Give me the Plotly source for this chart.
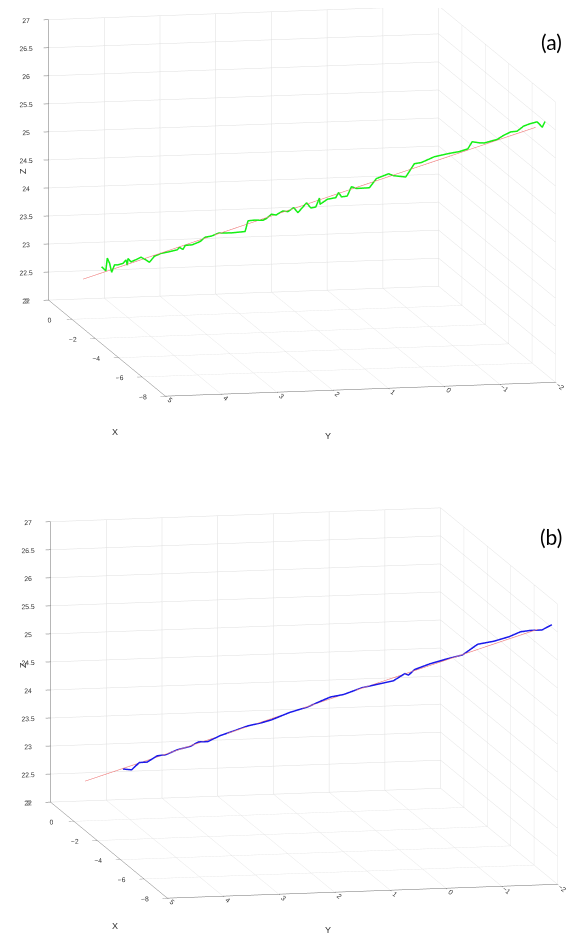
import plotly.graph_objects as go

# Reference (ideal) trajectory
red_x = [1.0, -7.5]
red_y = [4.59, -1.75]
red_z = [22.53, 26.47]

# (a) measured trajectory
green_x = [0.66, 0.58, 0.55, 0.50, 0.46, 0.41, 0.35, 0.25, 0.19, 0.17, 0.16, 0.10, 0.01, -0.09, -0.17,
           -0.24, -0.33, -0.46, -0.58, -0.77, -0.81, -0.87, -0.92, -1.05, -1.20, -1.29, -1.42, -1.54, -1.79, -2.04,
           -2.10, -2.22, -2.38, -2.44, -2.53, -2.63, -2.75, -2.84, -2.96, -3.03, -3.20, -3.28, -3.37, -3.44, -3.45,
           -3.59, -3.74, -3.80, -3.85, -3.96, -4.04, -4.13, -4.38, -4.50, -4.73, -4.83, -5.06, -5.22, -5.35, -5.60,
           -5.88, -6.07, -6.22, -6.31, -6.44, -6.53, -6.78, -6.90, -7.03, -7.15, -7.28, -7.40, -7.52, -7.57, -7.63, -7.68]
green_y = [4.33, 4.27, 4.25, 4.22, 4.19, 4.15, 4.10, 4.03, 3.99, 3.97, 3.96, 3.92, 3.85, 3.78, 3.72,
           3.66, 3.59, 3.50, 3.41, 3.27, 3.24, 3.19, 3.16, 3.06, 2.95, 2.88, 2.79, 2.69, 2.51, 2.32,
           2.28, 2.19, 2.07, 2.02, 1.95, 1.89, 1.79, 1.72, 1.64, 1.58, 1.46, 1.40, 1.33, 1.28, 1.27,
           1.17, 1.05, 1.01, 0.97, 0.89, 0.83, 0.76, 0.58, 0.48, 0.31, 0.24, 0.07, -0.05, -0.15, -0.33,
           -0.54, -0.68, -0.80, -0.86, -0.96, -1.03, -1.21, -1.30, -1.40, -1.49, -1.58, -1.67, -1.77, -1.80, -1.84, -1.88]
green_z = [22.80, 22.74, 22.97, 22.89, 22.73, 22.87, 22.88, 22.92, 22.99, 22.90, 23.02, 22.97, 23.02, 23.08, 23.05,
           23.01, 23.13, 23.20, 23.24, 23.31, 23.36, 23.33, 23.41, 23.44, 23.52, 23.61, 23.65, 23.72, 23.76, 23.82,
           24.02, 24.05, 24.07, 24.11, 24.20, 24.20, 24.29, 24.29, 24.38, 24.30, 24.50, 24.42, 24.45, 24.62, 24.51,
           24.62, 24.67, 24.77, 24.70, 24.73, 24.91, 24.89, 24.94, 25.12, 25.24, 25.22, 25.23, 25.49, 25.53, 25.67,
           25.77, 25.83, 25.90, 26.04, 26.04, 26.05, 26.15, 26.24, 26.32, 26.35, 26.46, 26.52, 26.57, 26.54, 26.49, 26.60]

# (b) filtered trajectory
blue_x = [0.29, 0.12, -0.02, -0.17, -0.36, -0.51, -0.73, -0.98, -1.13, -1.31, -1.54, -1.81, -2.06, -2.31, -2.50,
          -2.84, -3.18, -3.43, -3.61, -3.86, -4.20, -4.54, -4.79, -5.01, -5.07, -5.19, -5.47, -5.78, -6.09, -6.37,
          -6.68, -6.96, -7.18, -7.36, -7.58, -7.76]
blue_y = [4.06, 3.94, 3.83, 3.72, 3.58, 3.46, 3.30, 3.11, 3.00, 2.87, 2.70, 2.49, 2.31, 2.12, 1.98,
          1.73, 1.47, 1.29, 1.15, 0.97, 0.71, 0.46, 0.27, 0.11, 0.06, -0.03, -0.24, -0.47, -0.70, -0.91,
          -1.14, -1.35, -1.51, -1.65, -1.81, -1.95]
blue_z = [22.85, 22.86, 23.01, 23.04, 23.18, 23.22, 23.34, 23.44, 23.54, 23.57, 23.71, 23.84, 23.96, 24.05, 24.13,
          24.31, 24.46, 24.60, 24.70, 24.78, 24.95, 25.07, 25.16, 25.32, 25.30, 25.42, 25.56, 25.69, 25.81, 26.04,
          26.14, 26.26, 26.38, 26.43, 26.47, 26.59]

x_range = [-8, 2]
y_range = [-2, 5]
z_range = [22, 27]
panel_labels = ["(a)", "(b)"]
axis_titles = ["X", "Y", "Z"]

fig = go.Figure()

def add_panel(scene, px, py, pz, color):
    fig.add_trace(go.Scatter3d(x=red_x, y=red_y, z=red_z, mode="lines",
                               line=dict(color="rgb(240,120,120)", width=1.2),
                               scene=scene, showlegend=False, hoverinfo="skip"))
    fig.add_trace(go.Scatter3d(x=px, y=py, z=pz, mode="lines",
                               line=dict(color=color, width=3),
                               scene=scene, showlegend=False, hoverinfo="skip"))

add_panel("scene", green_x, green_y, green_z, "rgb(20,240,20)")
add_panel("scene2", blue_x, blue_y, blue_z, "rgb(25,25,235)")

tickfont = dict(family="Liberation Sans, Arial, sans-serif", size=9, color="#333")

def axis(rng, dtick):
    return dict(title=dict(text=""),
                range=rng, dtick=dtick, autorange=False,
                showgrid=True, gridcolor="rgb(222,222,222)", gridwidth=1,
                showline=True, linecolor="rgb(110,110,110)", linewidth=1,
                ticks="outside", tickcolor="rgb(110,110,110)", ticklen=5,
                tickfont=tickfont, zeroline=False, showbackground=False,
                showspikes=False, mirror=False)

eye_dir = (-0.9646, 0.2005, 0.1709)
dist = 2.2

def camera(c):
    return dict(eye=dict(x=c[0] + eye_dir[0] * dist, y=c[1] + eye_dir[1] * dist, z=c[2] + eye_dir[2] * dist),
                up=dict(x=0, y=0, z=1), center=dict(x=c[0], y=c[1], z=c[2]),
                projection=dict(type="orthographic"))

def scene_layout(yd, c):
    return dict(domain=dict(x=[0, 1], y=yd),
                xaxis=axis(x_range, 2),
                yaxis=axis(y_range, 1),
                zaxis=axis(z_range, 0.5),
                aspectmode="manual",
                aspectratio=dict(x=2.448, y=1.699, z=1.2135),
                camera=camera(c), bgcolor="white")

title_font = dict(family="Liberation Sans, Arial, sans-serif", size=9, color="#333")
label_font = dict(family="Lato, Open Sans, sans-serif", size=21, color="black")

def paper_text(text, px, py, font, angle=0):
    return dict(text=text, x=px / 576, y=1 - py / 938, xref="paper", yref="paper",
                xanchor="center", yanchor="middle",
                showarrow=False, font=font, textangle=angle)

annotations = []
for i, dy in enumerate([0, 494]):
    annotations += [
        paper_text(axis_titles[0], 107, 424 + dy, title_font),
        paper_text(axis_titles[1], 320, 428 + dy, title_font),
        paper_text(axis_titles[2], 15, 163 + dy, title_font, -90),
    ]
annotations += [
    paper_text(panel_labels[0], 543, 33, label_font),
    paper_text(panel_labels[1], 543, 528, label_font),
]

fig.update_layout(
    width=576, height=938,
    margin=dict(l=0, r=0, t=0, b=0),
    paper_bgcolor="white",
    scene=scene_layout([0.5, 1.0], (-0.0244, 0.0312, -0.1744)),
    scene2=scene_layout([0.0, 0.5], (0.00088, 0.0346, -0.0357)),
    annotations=annotations,
)

fig.write_html("out.html")
